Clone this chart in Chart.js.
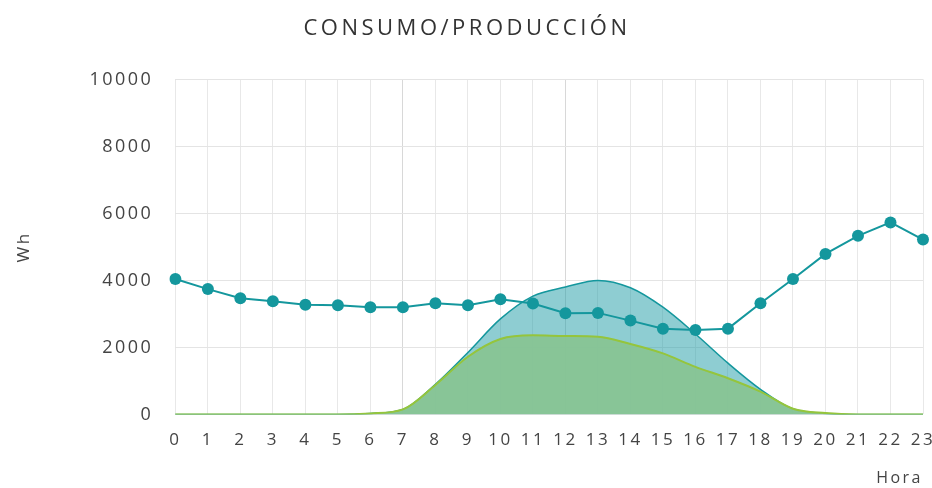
<!DOCTYPE html>
<html>
<head>
<meta charset="utf-8">
<script src="https://cdn.jsdelivr.net/npm/chart.js@4.4.1/dist/chart.umd.min.js"></script>
<style>
    html, body { margin: 0; padding: 0; background: #ffffff; }
    #wrap { width: 932px; height: 488px; }
</style>
</head>
<body>
<div id="wrap"><canvas id="energyChart" width="932" height="488"></canvas></div>
<script>
// Consumo / producción horaria (Wh)
const hours = ['0', '1', '2', '3', '4', '5', '6', '7', '8', '9', '10', '11',
    '12', '13', '14', '15', '16', '17', '18', '19', '20', '21', '22', '23'];

const consumo = [4040, 3740, 3470, 3380, 3270, 3260, 3200, 3200, 3320, 3260, 3440, 3310,
    3020, 3030, 2800, 2560, 2520, 2560, 3320, 4040, 4790, 5330, 5730, 5220];

const produccion = [0, 0, 0, 0, 0, 0, 30, 150, 900, 1850, 2850, 3530,
    3800, 4000, 3780, 3200, 2400, 1530, 750, 160, 30, 0, 0, 0];

const autoconsumo = [0, 0, 0, 0, 0, 0, 30, 150, 880, 1720, 2250, 2360,
    2340, 2320, 2100, 1820, 1420, 1080, 680, 170, 40, 0, 0, 0];

const yTicks = [0, 2000, 4000, 6000, 8000, 10000];

const TEAL = '#14979d';
const TEAL_FILL = 'rgba(30, 155, 165, 0.5)';
const GREEN = '#95c53c';
const GREEN_FILL = 'rgba(136, 196, 146, 0.92)';

// the source chart uses widely spaced lettering
const spacedText = {
    id: 'spacedText',
    beforeLayout(chart) {
        chart.ctx.letterSpacing = '2.5px';
    },
    beforeDraw(chart) {
        chart.ctx.letterSpacing = '2.5px';
        const tb = chart.titleBlock;
        if (tb && !tb._spaced) {
            const orig = tb.draw;
            tb.draw = function (area) {
                const c = this.ctx;
                c.save();
                c.letterSpacing = '3.5px';
                c.translate(-4, 0);
                orig.call(this, area);
                c.restore();
            };
            tb._spaced = true;
        }
    }
};

const ctx = document.getElementById('energyChart');

new Chart(ctx, {
    type: 'line',
    data: {
        labels: hours,
        datasets: [
            {
                label: 'Consumo',
                data: consumo,
                borderColor: TEAL,
                backgroundColor: TEAL,
                borderWidth: 2,
                fill: false,
                tension: 0,
                pointRadius: 6,
                pointBackgroundColor: TEAL,
                pointBorderColor: TEAL,
                pointBorderWidth: 0
            },
            {
                label: 'Autoconsumo',
                data: autoconsumo,
                borderColor: GREEN,
                backgroundColor: GREEN_FILL,
                borderWidth: 2,
                fill: 'origin',
                cubicInterpolationMode: 'monotone',
                pointRadius: 0
            },
            {
                label: 'Producción',
                data: produccion,
                borderColor: TEAL,
                backgroundColor: TEAL_FILL,
                borderWidth: 1.5,
                fill: 'origin',
                cubicInterpolationMode: 'monotone',
                pointRadius: 0
            }
        ]
    },
    options: {
        responsive: false,
        animation: false,
        layout: {
            padding: { left: 10, right: 0, top: 0, bottom: 0 }
        },
        plugins: {
            legend: { display: false },
            tooltip: { enabled: false },
            title: {
                display: true,
                text: 'CONSUMO/PRODUCCIÓN',
                color: '#333333',
                font: { size: 22, family: 'Open Sans', weight: 'normal' },
                padding: { top: 16, bottom: 37 }
            }
        },
        scales: {
            x: {
                offset: false,
                afterFit: (scale) => {
                    // the last hour label may overhang the plot edge
                    scale.paddingRight = 9;
                },
                ticks: {
                    color: '#444444',
                    font: { size: 17, family: 'Open Sans' },
                    maxRotation: 0,
                    autoSkip: false,
                    padding: 16
                },
                grid: {
                    color: (c) => (c.index === 7 || c.index === 12) ? '#d8d8d8' : '#e8e8e8',
                    drawTicks: false
                },
                border: { display: false },
                title: {
                    display: true,
                    text: 'Hora',
                    align: 'end',
                    color: '#444444',
                    font: { size: 16, family: 'Open Sans' },
                    padding: { top: 2, bottom: 0 }
                }
            },
            y: {
                min: 0,
                max: 10000,
                afterBuildTicks: (axis) => {
                    axis.ticks = yTicks.map(v => ({ value: v }));
                },
                ticks: {
                    color: '#444444',
                    font: { size: 18, family: 'Open Sans' },
                    padding: 22,
                    callback: (v) => String(v)
                },
                grid: {
                    color: '#e4e4e4',
                    drawTicks: false
                },
                border: { display: false },
                title: {
                    display: true,
                    text: 'Wh',
                    color: '#444444',
                    font: { size: 17, family: 'Open Sans' },
                    padding: { bottom: 33 }
                }
            }
        }
    },
    plugins: [spacedText]
});
</script>
</body>
</html>
